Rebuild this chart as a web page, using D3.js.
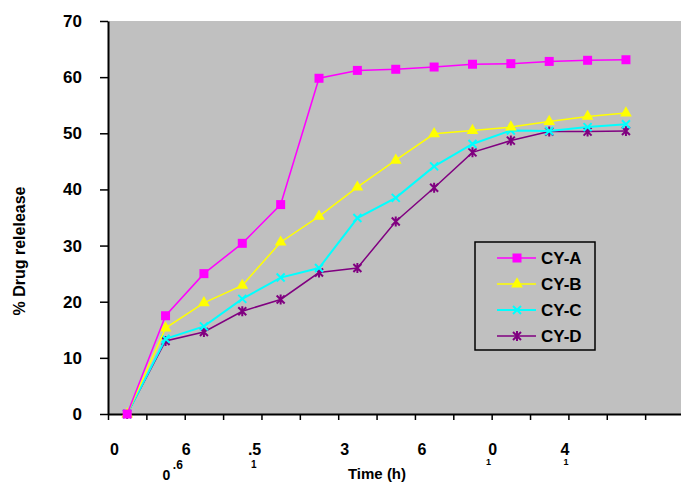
<!DOCTYPE html>
<html>
<head>
<meta charset="utf-8">
<script src="https://cdn.jsdelivr.net/npm/d3@7"></script>
<style>
  body { margin: 0; background: #fff; }
  text { font-family: "Liberation Sans", Arial, sans-serif; font-weight: bold; }
</style>
</head>
<body>
<div id="chart"></div>
<script>
// sampling points (index along the time axis)
const points = d3.range(14);

const cyA = [0, 17.5, 25.0, 30.4, 37.3, 59.8, 61.2, 61.4, 61.8, 62.3, 62.4, 62.8, 63.0, 63.1];
const cyB = [0, 15.3, 19.8, 22.9, 30.6, 35.2, 40.4, 45.2, 49.9, 50.5, 51.1, 52.1, 53.0, 53.6];
const cyC = [0, 13.4, 15.6, 20.5, 24.3, 26.0, 34.9, 38.5, 44.1, 48.1, 50.5, 50.4, 51.1, 51.6];
const cyD = [0, 13.0, 14.6, 18.3, 20.4, 25.2, 26.0, 34.3, 40.3, 46.6, 48.7, 50.3, 50.3, 50.4];

const seriesNames = ["CY-A", "CY-B", "CY-C", "CY-D"];
const yTicks = [0, 10, 20, 30, 40, 50, 60, 70];

// the garbled time labels as they appear under the axis (at = position on the index axis)
const timeLabels = [
  { t: "0",  at: -0.33, row: 0 },
  { t: "6",  at: 1.54,  row: 0 },
  { t: ".6", at: 1.32,  row: 1 },
  { t: "0",  at: 1.02,  row: 2 },
  { t: ".5", at: 3.32,  row: 0 },
  { t: "1",  at: 3.30,  row: 3 },
  { t: "3",  at: 5.67,  row: 0 },
  { t: "6",  at: 7.68,  row: 0 },
  { t: "0",  at: 9.53,  row: 0 },
  { t: "1",  at: 9.42,  row: 4 },
  { t: "4",  at: 11.41, row: 0 },
  { t: "1",  at: 11.44, row: 4 }
];

const W = 681, H = 483;
const plotLeft = 108, plotTop = 21, plotBottom = 414;

const svg = d3.select("#chart").append("svg")
  .attr("width", W).attr("height", H);

const x = d3.scaleLinear().domain([-0.5, 14.5]).range([plotLeft, 683.5]);
const y = d3.scaleLinear().domain([0, 70]).range([plotBottom, plotTop]);

// plot background
svg.append("rect")
  .attr("x", plotLeft).attr("y", plotTop)
  .attr("width", W - plotLeft).attr("height", plotBottom - plotTop)
  .attr("fill", "#c0c0c0");

// y axis
const yAxis = svg.append("g")
  .attr("transform", `translate(${plotLeft},0)`)
  .call(d3.axisLeft(y).tickValues(yTicks).tickSize(8).tickSizeOuter(0).tickPadding(18));
yAxis.select(".domain").attr("stroke", "#000").attr("stroke-width", 2);
yAxis.selectAll(".tick line").attr("stroke", "#000").attr("stroke-width", 1.5);
yAxis.selectAll(".tick text").style("font-size", "17px").attr("fill", "#000")
  .style("font-family", "'Liberation Sans', Arial, sans-serif").style("font-weight", "bold");

// x axis
const xAxis = svg.append("g")
  .attr("transform", `translate(0,${plotBottom})`)
  .call(d3.axisBottom(x).tickValues(d3.range(-0.5, 15, 1)).tickSize(6).tickSizeOuter(0).tickFormat(""));
xAxis.select(".domain").attr("stroke", "#000").attr("stroke-width", 2);
xAxis.selectAll(".tick line").attr("stroke", "#000").attr("stroke-width", 1.5);

// time labels
const rowY = [455, 469, 480, 468, 465];
const rowSize = ["16px", "12px", "14px", "10px", "9px"];
svg.append("g").selectAll("text")
  .data(timeLabels)
  .join("text")
  .attr("x", d => x(d.at))
  .attr("y", d => rowY[d.row])
  .attr("text-anchor", "middle")
  .style("font-size", d => rowSize[d.row])
  .text(d => d.t);

svg.append("text")
  .attr("x", 377).attr("y", 479)
  .attr("text-anchor", "middle")
  .style("font-size", "15px")
  .text("Time (h)");

svg.append("text")
  .attr("transform", "translate(25,251) rotate(-90)")
  .attr("text-anchor", "middle")
  .style("font-size", "16px")
  .text("% Drug relelease");

// markers
function marker(g, kind, color) {
  if (kind === "square") {
    g.append("path").attr("d", d3.symbol(d3.symbolSquare, 81)()).attr("fill", color);
  } else if (kind === "triangle") {
    g.append("path").attr("d", d3.symbol(d3.symbolTriangle, 60)()).attr("fill", color);
  } else if (kind === "x") {
    g.append("path").attr("d", "M-4,-4L4,4M-4,4L4,-4")
      .attr("stroke", color).attr("stroke-width", 2).attr("fill", "none");
  } else {
    g.append("path").attr("d", "M-4,-4L4,4M-4,4L4,-4M0,-5L0,5")
      .attr("stroke", color).attr("stroke-width", 2).attr("fill", "none");
  }
}

const series = [
  { name: seriesNames[0], values: cyA, color: "#ff00ff", kind: "square",   width: 1.5 },
  { name: seriesNames[1], values: cyB, color: "#ffff00", kind: "triangle", width: 1.5 },
  { name: seriesNames[2], values: cyC, color: "#00ffff", kind: "x",        width: 2 },
  { name: seriesNames[3], values: cyD, color: "#800080", kind: "star",     width: 1.5 }
];

const line = d3.line()
  .x((d, i) => x(points[i]))
  .y(d => y(d));

series.slice().reverse().forEach(s => {
  svg.append("path")
    .datum(s.values)
    .attr("fill", "none")
    .attr("stroke", s.color)
    .attr("stroke-width", s.width)
    .attr("d", line);
  s.values.forEach((v, i) => {
    const g = svg.append("g").attr("transform", `translate(${x(points[i])},${y(v)})`);
    marker(g, s.kind, s.color);
  });
});

// legend
svg.append("rect")
  .attr("x", 475).attr("y", 242)
  .attr("width", 120).attr("height", 108)
  .attr("fill", "none").attr("stroke", "#000").attr("stroke-width", 1.5);

series.forEach((s, i) => {
  const ly = 258 + i * 26;
  svg.append("line")
    .attr("x1", 497).attr("x2", 536).attr("y1", ly).attr("y2", ly)
    .attr("stroke", s.color).attr("stroke-width", s.width);
  const g = svg.append("g").attr("transform", `translate(517,${ly})`);
  marker(g, s.kind, s.color);
  svg.append("text")
    .attr("x", 541).attr("y", ly + 6)
    .style("font-size", "17px")
    .text(s.name);
});
</script>
</body>
</html>
